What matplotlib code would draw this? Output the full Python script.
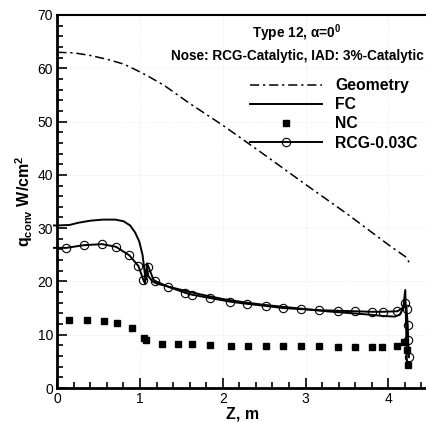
import numpy as np
import matplotlib
matplotlib.use('Agg')
import matplotlib.pyplot as plt
from matplotlib.ticker import MultipleLocator

plt.rcParams['font.family'] = ['Liberation Sans', 'DejaVu Sans']
plt.rcParams['mathtext.fontset'] = 'custom'
plt.rcParams['mathtext.rm'] = 'Liberation Sans'
plt.rcParams['mathtext.bf'] = 'Liberation Sans:bold'
plt.rcParams['mathtext.it'] = 'Liberation Sans:italic'

# Geometry profile (scaled)
geo_z = [0.0, 0.2, 0.4, 0.6, 0.8, 0.95, 1.1, 1.3, 1.6, 2.0, 2.5, 3.0, 3.5, 4.0, 4.22, 4.25]
geo_q = [63.0, 62.9, 62.4, 61.7, 60.8, 59.7, 58.5, 56.7, 53.4, 49.3, 43.8, 38.2, 32.7, 26.9, 24.5, 23.6]

# FC (fully catalytic)
fc_z = [-0.04, 0.0, 0.15, 0.25, 0.4, 0.55, 0.7, 0.8, 0.88, 0.94, 0.99, 1.03, 1.05, 1.065,
        1.075, 1.085, 1.1, 1.15, 1.2, 1.3, 1.5, 1.75, 2.0, 2.25, 2.5, 2.75, 3.0, 3.25,
        3.5, 3.75, 3.95, 4.08, 4.14, 4.18, 4.205, 4.215, 4.225]
fc_q = [30.5, 30.5, 30.6, 31.0, 31.4, 31.6, 31.6, 31.3, 30.5, 29.2, 27.5, 25.0, 22.5, 20.3,
        20.5, 22.3, 21.0, 20.0, 19.6, 19.2, 18.4, 17.5, 16.7, 16.1, 15.6, 15.2, 14.8, 14.4,
        14.1, 13.8, 13.5, 13.4, 13.8, 15.0, 18.4, 12.0, 4.7]

# NC (non catalytic)
nc_z = [0.14, 0.36, 0.57, 0.72, 0.90, 1.05, 1.07, 1.26, 1.46, 1.63, 1.84, 2.10, 2.30, 2.52,
        2.73, 2.95, 3.16, 3.39, 3.60, 3.80, 3.92, 4.11, 4.19, 4.23, 4.24]
nc_q = [12.8, 12.8, 12.6, 12.2, 11.3, 9.4, 9.0, 8.3, 8.3, 8.3, 8.1, 7.9, 7.9, 7.9,
        7.8, 7.8, 7.8, 7.7, 7.7, 7.7, 7.7, 7.9, 8.7, 7.2, 4.4]

# RCG-0.03C
rcg_z = [-0.04, 0.0, 0.11, 0.32, 0.54, 0.71, 0.87, 0.98, 1.04, 1.06, 1.085, 1.10, 1.16, 1.18,
         1.34, 1.54, 1.63, 1.84, 2.09, 2.29, 2.52, 2.73, 2.95, 3.16, 3.39, 3.60, 3.80,
         3.93, 4.11, 4.17, 4.20, 4.22, 4.235, 4.24, 4.245, 4.25]
rcg_q = [26.3, 26.3, 26.3, 26.8, 27.0, 26.5, 24.9, 22.9, 20.3, 19.6, 23.4, 22.8, 20.4, 20.1,
         19.0, 17.9, 17.5, 16.9, 16.2, 15.8, 15.4, 15.0, 14.8, 14.6, 14.5, 14.4, 14.3,
         14.3, 14.4, 15.0, 16.0, 14.9, 11.8, 9.0, 7.5, 5.8]
rcg_marks = [2, 3, 4, 5, 6, 7, 8, 11, 13, 14, 15, 16, 17, 18, 19, 20, 21, 22, 23, 24, 25, 26,
             27, 28, 30, 31, 32, 33, 35]

fig = plt.figure(figsize=(4.27, 4.22), dpi=100)
ax = fig.add_axes([57.3 / 427, 1 - 388 / 422, 1 - 57.3 / 427, (388 - 15) / 422])

ax.plot(geo_z, geo_q, color='black', lw=1.1, dashes=(6, 2.5, 1.5, 2.5), label='Geometry')
ax.plot(fc_z, fc_q, color='black', lw=1.4, label='FC', clip_on=False)
ax.plot(nc_z, nc_q, ls='none', marker='s', ms=4.3, color='black', label='NC')
ax.plot(rcg_z, rcg_q, color='black', lw=1.4, marker='o', ms=6, mfc='none', mew=0.8,
        markevery=rcg_marks, label='RCG-0.03C', clip_on=False)

ax.set_xlim(0, (427 - 57.3) / 82.75)
ax.set_ylim(0, 70)
ax.xaxis.set_major_locator(MultipleLocator(1))
ax.xaxis.set_minor_locator(MultipleLocator(0.2))
ax.yaxis.set_major_locator(MultipleLocator(10))
ax.yaxis.set_minor_locator(MultipleLocator(2))
ax.tick_params(which='both', direction='in', top=False, right=False, labelsize=10, width=1.2)
ax.tick_params(which='major', length=7, pad=3)
ax.tick_params(which='minor', length=4)
ax.grid(True, which='major', color='#e2e2e2', ls=':', lw=0.5)

ax.spines['left'].set_linewidth(2)
ax.spines['bottom'].set_linewidth(2)
ax.spines['top'].set_linewidth(1.5)
ax.spines['right'].set_visible(False)

ax.set_xlabel('Z, m', fontsize=11.5, fontweight='bold', labelpad=0)
ax.set_ylabel(r'$\mathbf{q_{conv}}$ W/cm$^\mathbf{2}$', fontsize=11.5, fontweight='bold', labelpad=2)

fig.text(297 / 427, 1 - 33 / 422, r'Type 12, α=0$^\mathbf{0}$', fontsize=9.8, fontweight='bold',
         ha='center', va='center')
fig.text(297 / 427, 1 - 56 / 422, 'Nose: RCG-Catalytic, IAD: 3%-Catalytic', fontsize=9.8,
         fontweight='bold', ha='center', va='center')

leg = ax.legend(loc='upper left', bbox_to_anchor=(250 / 427, 1 - 78 / 422),
                bbox_transform=fig.transFigure, frameon=False, fontsize=11.3,
                handlelength=4.6, handletextpad=0.83, labelspacing=0.27,
                borderpad=0, borderaxespad=0)
for t in leg.get_texts():
    t.set_fontweight('bold')

fig.savefig('out.png', dpi=100)
